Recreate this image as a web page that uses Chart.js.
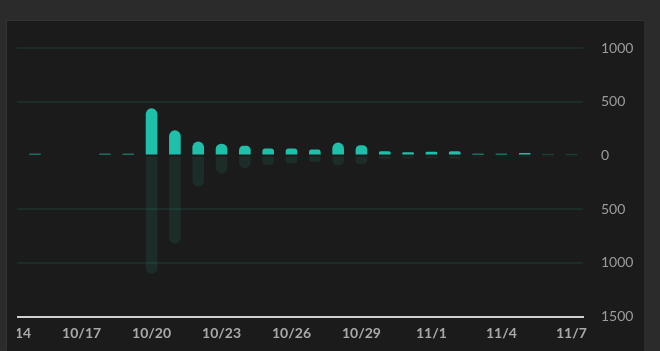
<!DOCTYPE html>
<html>
<head>
<meta charset="utf-8">
<script src="https://cdn.jsdelivr.net/npm/chart.js@4/dist/chart.umd.min.js"></script>
<style>
    html, body { margin: 0; padding: 0; }
    body { width: 660px; height: 351px; background: #2b2b2b; position: relative; overflow: hidden; }
    #panel { position: absolute; left: 7px; top: 21px; width: 637px; height: 330px; background: #1b1b1b;
             box-shadow: -1px -1px 0 #333; }
    #clip { position: absolute; left: 17px; top: 0; width: 627px; height: 351px; overflow: hidden; }
    #chart { position: absolute; left: -37px; top: 0; }
</style>
</head>
<body>
<div id="panel"></div>
<div id="clip"><canvas id="chart" width="670" height="351" style="width:670px;height:351px"></canvas></div>
<script>
// daily buckets, 10/14 .. 11/7
const days = ['10/14', '10/15', '10/16', '10/17', '10/18', '10/19', '10/20', '10/21', '10/22', '10/23',
              '10/24', '10/25', '10/26', '10/27', '10/28', '10/29', '10/30', '10/31', '11/1', '11/2',
              '11/3', '11/4', '11/5', '11/6', '11/7'];
const upValues = [null, 15, null, null, 15, 15, 440, 235, 130, 110,
                  90, 65, 65, 55, 120, 95, 40, 30, 35, 40,
                  15, 15, 22, 12, 12];
const downValues = [null, -10, null, null, -10, -10, -1100, -820, -290, -170,
                    -120, -90, -75, -60, -90, -80, -30, -25, -25, -30,
                    -5, -5, -15, -3, -3];
const yTicks = [1000, 500, 0, -500, -1000, -1500];

const teal = '#1fc0aa';

new Chart(document.getElementById('chart'), {
    type: 'bar',
    data: {
        labels: days,
        datasets: [
            {
                data: upValues,
                backgroundColor: teal,
                borderRadius: 6,
                barPercentage: 0.5,
                categoryPercentage: 1
            },
            {
                data: downValues,
                backgroundColor: 'rgba(31, 192, 170, 0.1)',
                borderRadius: 6,
                barPercentage: 0.5,
                categoryPercentage: 1
            }
        ]
    },
    options: {
        responsive: false,
        animation: false,
        events: [],
        layout: { padding: { left: 20, top: 48, right: 0, bottom: 1.5 } },
        plugins: {
            legend: { display: false },
            tooltip: { enabled: false }
        },
        scales: {
            x: {
                stacked: true,
                grid: { display: false, drawTicks: false },
                border: { display: true, color: '#cfcfcf', width: 2 },
                ticks: {
                    autoSkip: false,
                    maxRotation: 0,
                    padding: 8,
                    color: '#a9a9a9',
                    font: { family: 'Lato', size: 14, weight: 'bold' },
                    callback: (v, i) => i % 3 === 0 ? days[i] : ''
                }
            },
            y: {
                stacked: true,
                position: 'right',
                min: yTicks[yTicks.length - 1],
                max: yTicks[0],
                afterBuildTicks: s => { s.ticks = yTicks.map(v => ({ value: v })); },
                afterFit: s => { s.width = 67; },
                grid: {
                    drawTicks: false,
                    lineWidth: 2,
                    color: c => (c.tick.value === 0 || c.tick.value === -1500) ? 'rgba(0,0,0,0)' : '#1b2c29'
                },
                border: { display: false },
                ticks: {
                    padding: 18,
                    color: '#9c9c9c',
                    font: { family: 'Lato', size: 14 },
                    callback: v => String(Math.abs(v))
                }
            }
        }
    }
});
</script>
</body>
</html>
